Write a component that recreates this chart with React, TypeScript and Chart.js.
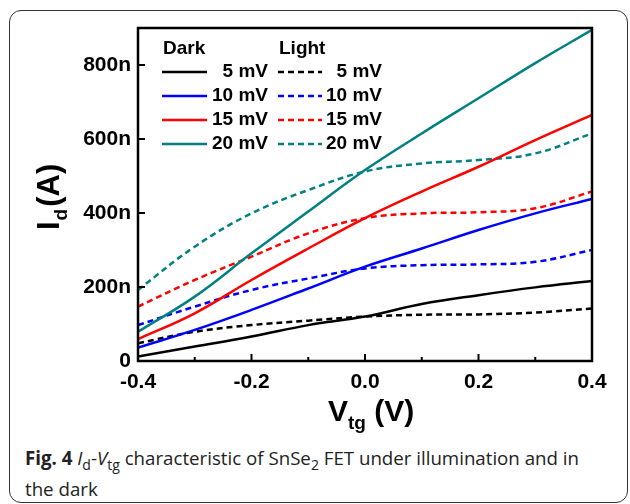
import React, { useEffect, useRef } from "react";
import { Chart, registerables } from "chart.js";
Chart.register(...registerables);

// Top-gate voltage (V)
const vtg = [-0.4, -0.3, -0.2, -0.1, 0.0, 0.1, 0.2, 0.3, 0.4];
// Drain current (nA)
const dark5 = [12, 39, 66, 97, 120, 154, 178, 199, 216];
const dark10 = [36, 84, 138, 196, 255, 304, 354, 399, 438];
const dark15 = [59, 129, 219, 304, 386, 458, 525, 597, 665];
const dark20 = [79, 174, 291, 404, 516, 615, 710, 805, 895];
const light5 = [48, 79, 97, 109, 120, 125, 126, 131, 142];
const light10 = [97, 147, 192, 223, 250, 259, 261, 268, 300];
const light15 = [147, 219, 282, 345, 386, 399, 402, 413, 458];
const light20 = [192, 309, 399, 462, 512, 534, 543, 561, 615];

const biasLabels = ["5 mV", "10 mV", "15 mV", "20 mV"];
const colors = ["#000000", "#0000ff", "#ff0000", "#008080"];
const darkSeries = [dark5, dark10, dark15, dark20];
const lightSeries = [light5, light10, light15, light20];
const yTicks = [0, 200, 400, 600, 800];

const FONT = "'Liberation Sans', Arial, sans-serif";

const decor = {
  id: "decor",
  afterDraw(chart: any) {
    const { ctx, chartArea: ca, scales } = chart;
    const xs = scales.x;
    const ys = scales.y;
    ctx.save();
    ctx.strokeStyle = "#000";
    ctx.lineCap = "butt";
    // inner ticks
    ctx.lineWidth = 2;
    ys.ticks.forEach((t: any) => {
      const py = Math.round(ys.getPixelForValue(t.value));
      ctx.beginPath();
      ctx.moveTo(ca.left, py);
      ctx.lineTo(ca.left + 7, py);
      ctx.stroke();
    });
    const xt = xs.ticks.map((t: any) => t.value);
    xt.forEach((v: number, i: number) => {
      const px = xs.getPixelForValue(v);
      ctx.beginPath();
      ctx.moveTo(px, ca.bottom);
      ctx.lineTo(px, ca.bottom - 7);
      ctx.stroke();
      if (i < xt.length - 1) {
        const pm = xs.getPixelForValue((v + xt[i + 1]) / 2);
        ctx.beginPath();
        ctx.moveTo(pm, ca.bottom);
        ctx.lineTo(pm, ca.bottom - 4);
        ctx.stroke();
      }
    });
    // frame
    ctx.lineWidth = 2.5;
    ctx.strokeRect(ca.left, ca.top, ca.right - ca.left, ca.bottom - ca.top);

    // legend
    const ds = chart.data.datasets;
    ctx.fillStyle = "#000";
    ctx.textBaseline = "alphabetic";
    ctx.font = `bold 19px ${FONT}`;
    ctx.textAlign = "left";
    ctx.fillText("Dark", 163, 54);
    ctx.fillText("Light", 279, 54);
    for (let i = 0; i < 4; i++) {
      const base = 77 + i * 24;
      const ly = base - 5;
      const d = ds[i];
      const l = ds[i + 4];
      ctx.lineWidth = 2.5;
      ctx.strokeStyle = d.borderColor;
      ctx.setLineDash([]);
      ctx.beginPath();
      ctx.moveTo(162, ly);
      ctx.lineTo(207, ly);
      ctx.stroke();
      ctx.strokeStyle = l.borderColor;
      ctx.setLineDash(l.borderDash);
      ctx.beginPath();
      ctx.moveTo(278, ly);
      ctx.lineTo(322, ly);
      ctx.stroke();
      ctx.setLineDash([]);
      ctx.textAlign = "right";
      ctx.fillText(d.label.replace("Dark ", ""), 268, base);
      ctx.fillText(l.label.replace("Light ", ""), 382, base);
    }

    // x title: V_tg (V)
    ctx.textAlign = "left";
    ctx.font = `bold 30px ${FONT}`;
    let x0 = 328;
    ctx.fillText("V", x0, 421);
    x0 += ctx.measureText("V").width;
    ctx.font = `bold 19px ${FONT}`;
    ctx.fillText("tg", x0, 429);
    x0 += ctx.measureText("tg").width;
    ctx.font = `bold 30px ${FONT}`;
    ctx.fillText(" (V)", x0, 421);

    // y title: I_d (A)
    ctx.translate(59, 230);
    ctx.rotate(-Math.PI / 2);
    ctx.font = `bold 31px ${FONT}`;
    let y0 = 0;
    ctx.fillText("I", y0, 0);
    y0 += ctx.measureText("I").width + 1;
    ctx.font = `bold 19px ${FONT}`;
    ctx.fillText("d", y0, 8);
    y0 += ctx.measureText("d").width + 2;
    ctx.font = `bold 31px ${FONT}`;
    ctx.fillText("(A)", y0, 0);
    ctx.restore();
  },
};

export default function App() {
  const ref = useRef<HTMLCanvasElement>(null);
  useEffect(() => {
    const datasets: any[] = [];
    darkSeries.forEach((s, i) =>
      datasets.push({
        label: "Dark " + biasLabels[i],
        data: vtg.map((v, k) => ({ x: v, y: s[k] })),
        borderColor: colors[i],
        borderWidth: 2.5,
        borderDash: [],
        pointRadius: 0,
        tension: 0.4,
        fill: false,
      })
    );
    lightSeries.forEach((s, i) =>
      datasets.push({
        label: "Light " + biasLabels[i],
        data: vtg.map((v, k) => ({ x: v, y: s[k] })),
        borderColor: colors[i],
        borderWidth: 2.5,
        borderDash: [6, 4],
        pointRadius: 0,
        tension: 0.4,
        fill: false,
      })
    );
    const chart = new Chart(ref.current!, {
      type: "line",
      data: { datasets },
      options: {
        responsive: false,
        devicePixelRatio: 1,
        animation: false,
        layout: { padding: { left: 0, top: 28, right: 38, bottom: 0 } },
        plugins: { legend: { display: false }, tooltip: { enabled: false } },
        scales: {
          x: {
            type: "linear",
            min: -0.4,
            max: 0.4,
            grid: { display: false, drawTicks: false },
            border: { display: false },
            ticks: {
              stepSize: 0.2,
              padding: 9,
              color: "#000",
              font: { family: FONT, size: 21, weight: "bold" },
              callback: (v: any) => Number(v).toFixed(1),
            },
            afterFit: (s: any) => {
              s.height = 440 - 361;
            },
          },
          y: {
            type: "linear",
            min: 0,
            max: 900,
            afterBuildTicks: (s: any) => {
              s.ticks = yTicks.map((v) => ({ value: v }));
            },
            grid: { display: false, drawTicks: false },
            border: { display: false },
            ticks: {
              padding: 7,
              color: "#000",
              font: { family: FONT, size: 21, weight: "bold" },
              callback: (v: any) => (v === 0 ? "0" : v + "n"),
            },
            afterFit: (s: any) => {
              s.width = 138;
            },
          },
        },
      },
      plugins: [decor],
    });
    return () => chart.destroy();
  }, []);

  return (
    <div
      style={{
        position: "fixed",
        left: 0,
        top: 0,
        width: 630,
        height: 504,
        background: "#fff",
        overflow: "hidden",
      }}
    >
      <div
        style={{
          position: "absolute",
          left: 9,
          top: 10,
          width: 619,
          height: 493,
          boxSizing: "border-box",
          border: "1.5px solid #333",
          borderRadius: 12,
        }}
      />
      <canvas
        ref={ref}
        width={630}
        height={440}
        style={{ position: "absolute", left: 0, top: 0, width: 630, height: 440 }}
      />
      <div
        style={{
          position: "absolute",
          left: 25,
          top: 442,
          width: 595,
          fontFamily: "'Open Sans', sans-serif",
          fontSize: 18.7,
          lineHeight: "31px",
          color: "#222",
          whiteSpace: "nowrap",
        }}
      >
        <b>Fig. 4</b> <i>I</i>
        <sub style={{ fontSize: "0.75em", lineHeight: 0 }}>d</sub>-<i>V</i>
        <sub style={{ fontSize: "0.75em", lineHeight: 0 }}>tg</sub> characteristic of SnSe
        <sub style={{ fontSize: "0.75em", lineHeight: 0 }}>2</sub> FET under illumination and in
        <br />
        the dark
      </div>
    </div>
  );
}
